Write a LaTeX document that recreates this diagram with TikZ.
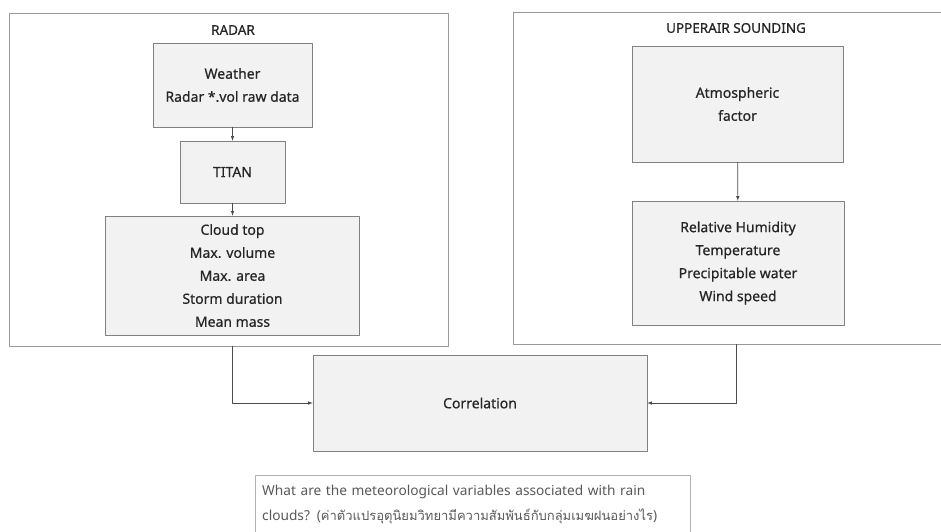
\documentclass[tikz,border=0pt]{standalone}
\usepackage{fontspec}
\setmainfont{Noto Sans}
\newfontfamily\boxfont{Noto Sans}[FakeBold=0.6]
\newfontfamily\thaifont[Script=Thai]{Loma}
\begin{document}
\begin{tikzpicture}
  [
    x=1pt, y=-1pt,
    line cap=round, line join=round,
    >=latex,
    frame/.style={draw=black!40, line width=.5pt, inner sep=0pt},
    box/.style={draw=black!50, fill=black!5, line width=.5pt, inner sep=0pt,
      align=center, text=black!85, font=\boxfont\fontsize{14}{23}\selectfont},
    title/.style={text=black!85, font=\boxfont\fontsize{13.5}{15}\selectfont},
    link/.style={->, draw=black!70, line width=.6pt},
  ]

\useasboundingbox (0,0) rectangle (941,531);
\clip (0,0) rectangle (941,531);
\fill[white] (0,0) rectangle (941,531);

% radar side
\node[frame, minimum width=439, minimum height=333] (radar) at (228.5,179.5) {};
\node[title] (radarT) at (233,30) {RADAR};
\node[box, minimum width=159, minimum height=84] (weather) at (232.5,85)
  {Weather\\Radar *.vol raw data};
\node[box, minimum width=105, minimum height=62] (titan) at (232.5,172) {TITAN};
\node[box, minimum width=254, minimum height=119] (storm) at (232.5,275.5)
  {Cloud top\\Max. volume\\Max. area\\Storm duration\\Mean mass};
\draw[link] (weather) -- (titan);
\draw[link] (titan) -- (storm);

% sounding side (runs off the right edge)
\node[frame, minimum width=447, minimum height=332] (sounding) at (736.5,178) {};
\node[title] (soundingT) at (736,28) {UPPERAIR SOUNDING};
\node[box, minimum width=211, minimum height=116] (atmos) at (737.5,104)
  {Atmospheric\\factor};
\node[box, minimum width=212, minimum height=124] (params) at (738,263)
  {Relative Humidity\\Temperature\\Precipitable water\\Wind speed};
\draw[link] (atmos) -- (params);

% correlation
\node[box, minimum width=334, minimum height=96] (corr) at (480,403) {Correlation};
\draw[link] (storm |- radar.south) |- (corr.west);
\draw[link] (sounding.south) |- (corr.east);

% question (runs off the bottom edge)
\node[draw=black!30, line width=.5pt, anchor=north west, minimum width=435,
  minimum height=80] (question) at (255,475) {};
\node[anchor=north west, inner sep=0pt, text width=421pt, align=left, text=black!65,
  font=\fontsize{13.7}{25}\selectfont] (questionT)
  at ([xshift=7pt, yshift=-10pt]question.north west)
  {What are the meteorological variables associated with rain\\
   clouds? ({\thaifont\fontsize{13}{25}\selectfont ค่าตัวแปรอุตุนิยมวิทยามีความสัมพันธ์กับกลุ่มเมฆฝนอย่างไร})};

\end{tikzpicture}
\end{document}
